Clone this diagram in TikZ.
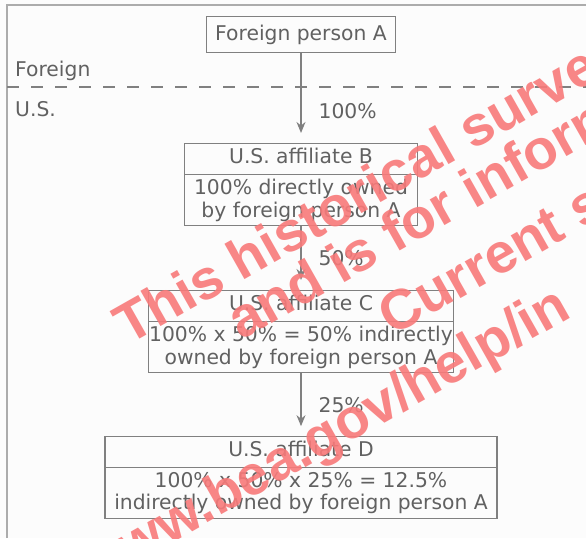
\documentclass[tikz,border=0pt]{standalone}
\usepackage{fontspec}
\setmainfont{DejaVu Sans}
\newfontfamily\markfont{Liberation Sans}
\usetikzlibrary{positioning,shapes.multipart,arrows.meta}
\definecolor{inkgray}{gray}{0.38}
\definecolor{linegray}{gray}{0.5}
\definecolor{markred}{RGB}{248,122,122}
\newcommand{\hdr}[1]{\rule[-6pt]{0pt}{21pt}#1}

\begin{document}
\begin{tikzpicture}[x=1pt,y=1pt,->,>={Stealth[length=11pt,width=9pt]},shorten >=10pt,on grid,auto,
    every node/.style={text=inkgray,font=\fontsize{20.3}{22.8}\selectfont},
    every edge/.style={draw=linegray,line width=1.2pt},
    owner/.style={draw=linegray,line width=1.2pt,minimum height=36pt,inner sep=0pt},
    affil/.style={draw=linegray,line width=1.2pt,rectangle split,rectangle split parts=2,
      align=center,inner xsep=0pt,inner ysep=4pt},
    share/.style={inner sep=0pt,xshift=17pt},
    stamp/.style={anchor=base west,rotate=29.5,inner sep=0pt,text=markred,text opacity=0.9,
      font=\markfont\bfseries\fontsize{56}{56}\selectfont}]
  \useasboundingbox (0,0) rectangle (586,-538);
  \fill[-,gray!2] (0,0) rectangle (586,-538);
  % frame and border line
  \draw[-,shorten >=0pt,gray!65,line width=1.3pt] (7,-538) -- (7,-5) -- (586,-5);
  \draw[-,shorten >=0pt,linegray,line width=1.2pt,dash pattern=on 12pt off 12pt] (7,-87) -- (586,-87);
  \node[inner sep=0pt,anchor=base west] (frn) at (15,-76.7) {Foreign};
  \node[inner sep=0pt,anchor=base west] (us) at (15,-116.7) {U.S.};

  \node[owner,minimum width=189pt] (a) at (301,-34.7) {Foreign person A};
  \node[affil,minimum width=233pt] (b) [below=150pt of a]
    {\hdr{U.S. affiliate B}\nodepart{two}100\% directly owned\\by foreign person A};
  \node[affil,minimum width=305pt] (c) [below=147pt of b]
    {\hdr{U.S. affiliate C}\nodepart{two}100\% x 50\% = 50\% indirectly\\owned by foreign person A};
  \node[affil,minimum width=392pt] (d) [below=146pt of c]
    {\hdr{U.S. affiliate D}\nodepart{two}100\% x 50\% x 25\% = 12.5\%\\indirectly owned by foreign person A};
  \path
    (a) edge node[share,pos=0.65] {100\%} (b)
    (b) edge node[share] {50\%} (c)
    (c) edge node[share] {25\%} (d);

  % stamp over the page
  \begin{scope}
    \clip (0,0) rectangle (586,-538);
    \node[stamp] (m1) at (128,-345.6) {This historical survey};
    \node[stamp] (m2) at (241,-341) {and is for information};
    \node[stamp] (m3) at (392,-337) {Current survey};
    \node[stamp] (m4) at (92.5,-588) {www.bea.gov/help/in};
  \end{scope}
\end{tikzpicture}
\end{document}
